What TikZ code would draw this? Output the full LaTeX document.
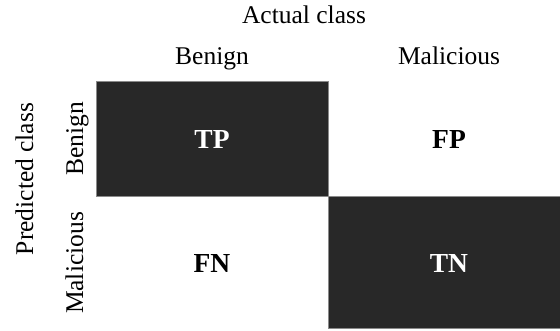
\documentclass[tikz,border=0pt]{standalone}
\usepackage{fontspec}
\setmainfont{Liberation Serif}
\definecolor{cellfill}{HTML}{282828}
\definecolor{celledge}{HTML}{8A8A8A}
\begin{document}
\begin{tikzpicture}[x=1pt,y=-1pt,
  lbl/.style={font=\fontsize{25.5}{30}\selectfont, anchor=base, inner sep=0pt},
  vlbl/.style={lbl, rotate=90},
  cell/.style={font=\fontsize{27.5}{32}\selectfont\bfseries, anchor=base, inner sep=0pt},
  darkcell/.style={fill=cellfill, draw=celledge, line width=0.8pt}]
\useasboundingbox (0,0) rectangle (560,331);
% shaded diagonal cells
\path[darkcell] (96,81) rectangle (328,196);
\path[darkcell] (328,196) rectangle (561,328);
% column headings
\node[lbl] (actual) at (304,24) {Actual class};
\node[lbl] (colB) at (212,65) {Benign};
\node[lbl] (colM) at (449,65) {Malicious};
% row headings
\node[vlbl] (pred) at (33,179) {Predicted class};
\node[vlbl] (rowB) at (83,139) {Benign};
\node[vlbl] (rowM) at (83,263) {Malicious};
% cell labels
\node[cell, text=white] (tp) at (212,149) {TP};
\node[cell] (fp) at (449,149) {FP};
\node[cell] (fn) at (212,273) {FN};
\node[cell, text=white] (tn) at (449,273) {TN};
\end{tikzpicture}
\end{document}
